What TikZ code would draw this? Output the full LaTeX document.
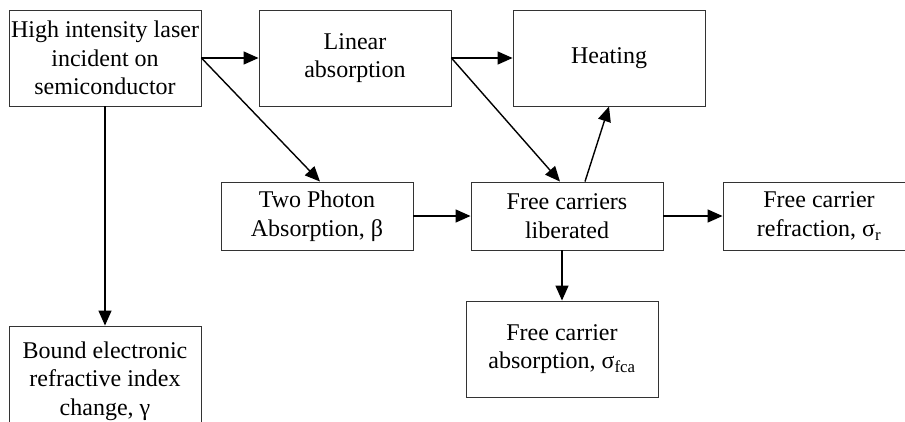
\documentclass[tikz,border=0pt]{standalone}
\usepackage{fontspec}
\setmainfont{Liberation Serif}
\usetikzlibrary{arrows.meta}
\tikzset{
  box/.style={draw=black!80, line width=0.9pt, minimum width=192pt, align=center, inner sep=1pt, font=\fontsize{24}{28.5}\selectfont},
  arr/.style={-{Triangle[length=15pt,width=13pt]}, line width=1.4pt}
}
\begin{document}
\begin{tikzpicture}[x=1pt,y=-1pt]
  \clip (0,0) rectangle (905,421);
  % boxes
  \node[box, minimum height=96pt] (laser) at (105,58) {High intensity laser\\incident on\\semiconductor};
  \node[box, minimum height=96pt] (linear) at (355,58) {Linear\\absorption};
  \node[box, minimum height=96pt] (heating) at (609,58) {Heating};
  \node[box, minimum height=68pt] (twophoton) at (317,216) {Two Photon\\Absorption, β};
  \node[box, minimum height=68pt] (freec) at (567,216) {Free carriers\\liberated};
  \node[box, minimum height=68pt] (fcr) at (819,216) {Free carrier\\refraction, σ\textsubscript{r}};
  \node[box, minimum height=96pt] (fca) at (562,349) {Free carrier\\absorption, σ\textsubscript{fca}};
  \node[box, minimum height=110pt] (bound) at (105,381) {Bound electronic\\refractive index\\change, γ};
  % arrows
  \draw[arr] (laser.east) -- (linear.west);
  \draw[arr] (laser.east) -- ([xshift=3pt]twophoton.north);
  \draw[arr] (laser.south) -- (bound.north);
  \draw[arr] (linear.east) -- (heating.west);
  \draw[arr] (linear.east) -- ([xshift=-7pt]freec.north);
  \draw[arr] ([xshift=18pt]freec.north) -- (heating.south);
  \draw[arr] (twophoton.east) -- (freec.west);
  \draw[arr] (freec.east) -- (fcr.west);
  \draw[arr] (fca.north |- freec.south) -- (fca.north);
\end{tikzpicture}
\end{document}
